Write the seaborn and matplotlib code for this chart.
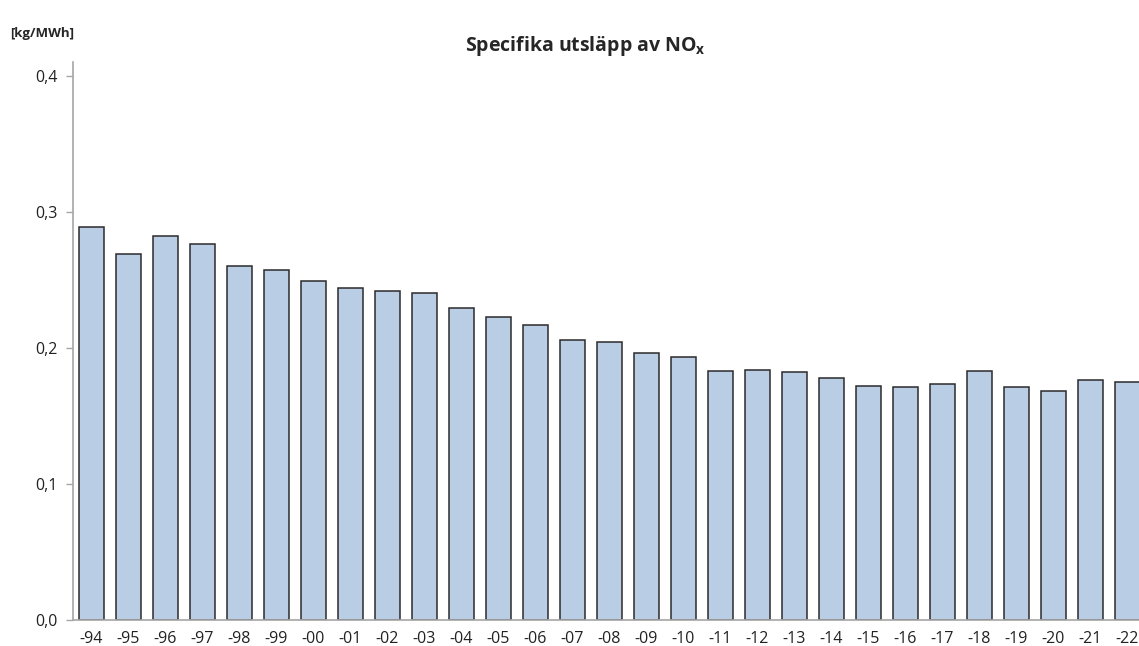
import numpy as np
import pandas as pd
import seaborn as sns
import matplotlib.pyplot as plt
from matplotlib.ticker import FixedLocator, FuncFormatter

# Years and specific NOx emissions (kg/MWh)
years = ["-94", "-95", "-96", "-97", "-98", "-99", "-00", "-01", "-02", "-03",
         "-04", "-05", "-06", "-07", "-08", "-09", "-10", "-11", "-12", "-13",
         "-14", "-15", "-16", "-17", "-18", "-19", "-20", "-21", "-22"]
nox = [0.289, 0.269, 0.282, 0.276, 0.260, 0.257, 0.249, 0.244, 0.242, 0.240,
       0.229, 0.223, 0.217, 0.206, 0.204, 0.196, 0.193, 0.183, 0.184, 0.182,
       0.178, 0.172, 0.171, 0.1735, 0.183, 0.171, 0.168, 0.176, 0.175]
yticks = [0.0, 0.1, 0.2, 0.3, 0.4]

df = pd.DataFrame({"year": years, "nox": nox})

sns.set_style("white")
plt.rcParams['font.family'] = ['Open Sans', 'DejaVu Sans']

fig = plt.figure(figsize=(11.39, 6.46), dpi=100)
# axes run past the right edge like in the original
ax = fig.add_axes([73 / 1139, 26 / 646, (1146 - 73) / 1139, (620 - 62) / 646])

sns.barplot(data=df, x="year", y="nox", color="#b9cde5", saturation=1,
            width=0.68, edgecolor="#2b2b2b", linewidth=1.1, ax=ax)

ax.set_xlim(-0.5, len(years) - 0.5)
ax.set_ylim(0, 0.41)
ax.set_yticks(yticks)
ax.yaxis.set_major_formatter(FuncFormatter(lambda v, p: f"{v:.1f}".replace(".", ",")))
ax.set_xlabel("")
ax.set_ylabel("")

# Excel-style tick marks between categories
ax.xaxis.set_minor_locator(FixedLocator(np.arange(-0.5, len(years), 1)))
ax.tick_params(axis="x", which="major", length=0, pad=8, labelsize=11.5, colors="#222222")
ax.tick_params(axis="x", which="minor", length=5, width=1, color="#a6a6a6")
ax.tick_params(axis="y", length=5, width=1, color="#a6a6a6", pad=6, labelsize=11.5,
               labelcolor="#222222", left=True)

for s in ["top", "right"]:
    ax.spines[s].set_visible(False)
for s in ["left", "bottom"]:
    ax.spines[s].set_color("#a6a6a6")
    ax.spines[s].set_linewidth(1.2)

fig.text(585 / 1139, 1 - 46 / 646, r"Specifika utsläpp av NO$_\mathregular{x}$",
         ha="center", va="center", fontsize=14, fontweight="bold")
fig.text(10 / 1139, 1 - 34 / 646, "[kg/MWh]", ha="left", va="center",
         fontsize=9.5, fontweight="bold")

fig.savefig("out.png", dpi=100)
